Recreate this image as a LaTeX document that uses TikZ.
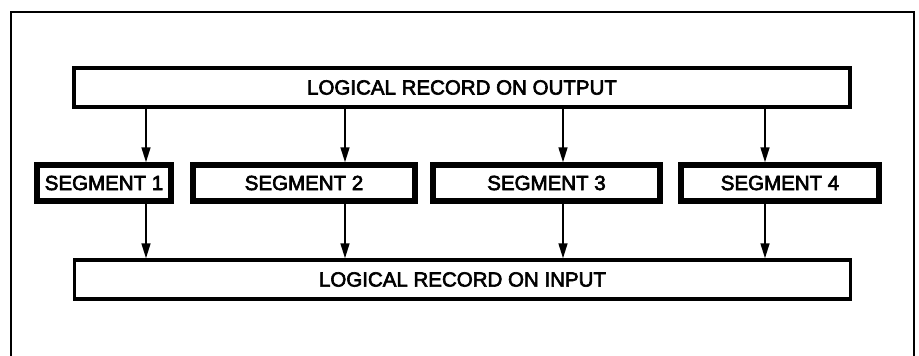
\documentclass[tikz,border=0pt]{standalone}
\usepackage{fontspec}
\setmainfont{Liberation Sans}[FakeBold=3]
\usepackage{tikz}
\usetikzlibrary{arrows.meta,positioning}

\begin{document}
\begin{tikzpicture}[
    x=1pt, y=-1pt,
    font=\fontsize{20.5}{24}\selectfont,
    record/.style={draw, line width=3.5pt, inner sep=0pt, minimum width=776pt, minimum height=39pt, align=center},
    segbox/.style={draw, line width=5.5pt, inner sep=0pt, minimum height=36pt, align=center},
    arrow/.style={-{Triangle[length=15pt,width=9pt]}, line width=1.6pt},
    frame/.style={line width=1.6pt}
]
\useasboundingbox (0,0) rectangle (919,356);

% outer frame, open at the bottom
\draw[frame] (11,356) -- (11,12) -- (914,12) -- (914,356);

\node[record] (out) at (462,87.5) {LOGICAL RECORD ON OUTPUT};

\node[segbox, minimum width=134pt] (seg1) at (104,183) {SEGMENT 1};
\node[segbox, minimum width=222pt] (seg2) at (304,183) {SEGMENT 2};
\node[segbox, minimum width=227pt] (seg3) at (546.5,183) {SEGMENT 3};
\node[segbox, minimum width=198pt] (seg4) at (780,183) {SEGMENT 4};

\node[record] (in) at (462.5,279.5) {LOGICAL RECORD ON INPUT};

% arrow columns
\coordinate (c1) at (146,0);
\coordinate (c2) at (345,0);
\coordinate (c3) at (563,0);
\coordinate (c4) at (765,0);

\foreach \i in {1,2,3,4} {
  \draw[arrow] (out.south -| c\i) -- (seg\i.north -| c\i);
  \draw[arrow] (seg\i.south -| c\i) -- (in.north -| c\i);
}
\end{tikzpicture}
\end{document}
